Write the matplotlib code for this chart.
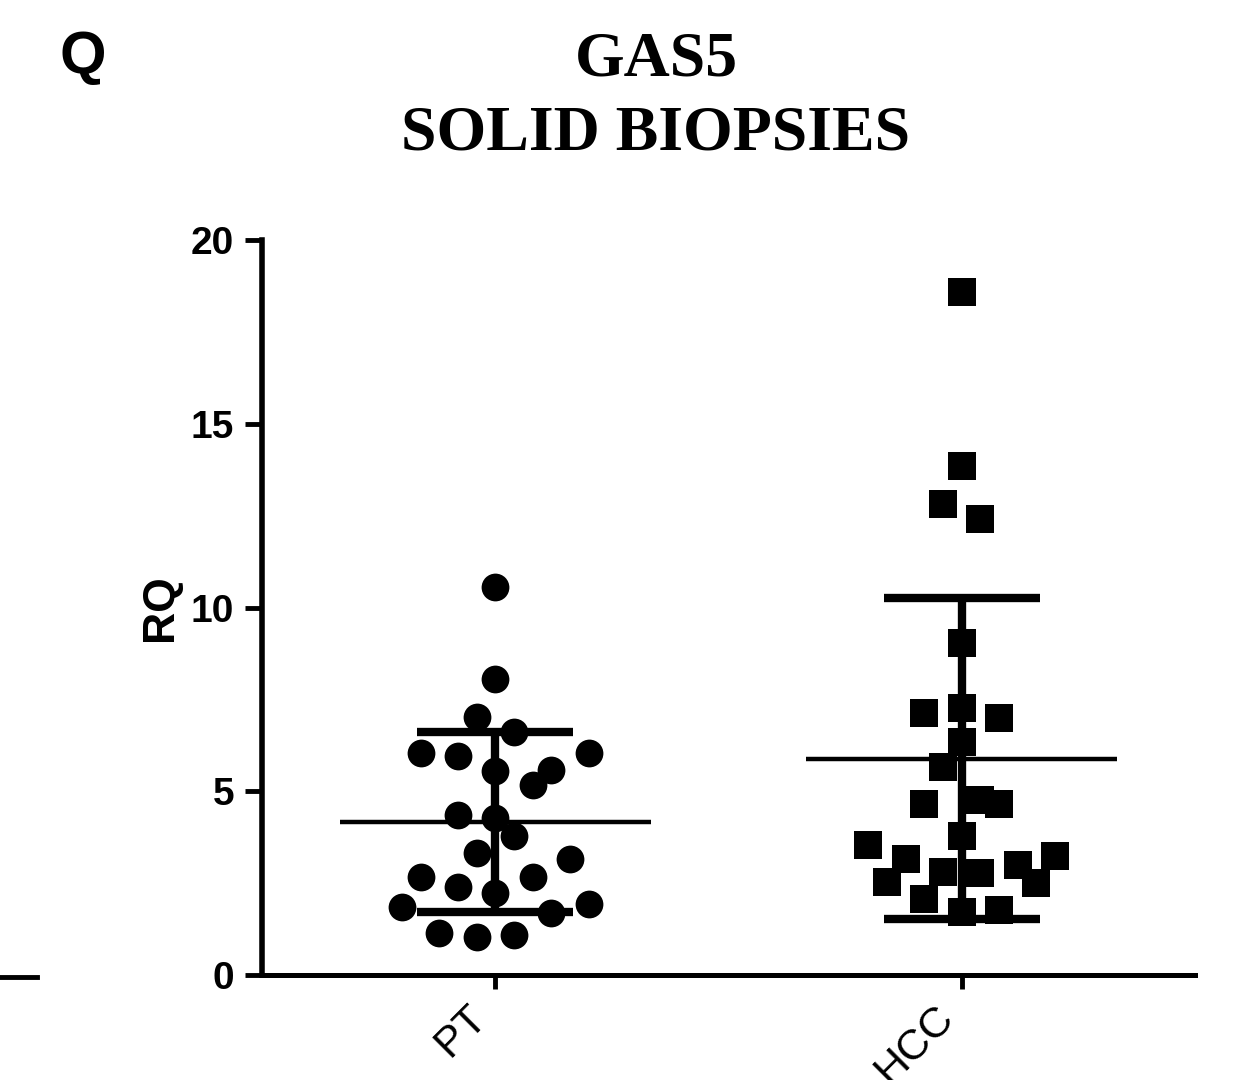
import numpy as np
import matplotlib
matplotlib.use("Agg")
import matplotlib.pyplot as plt
from matplotlib.lines import Line2D

# ---- data ----
categories = ["PT", "HCC"]
pt_values = [10.57, 8.05, 7.03, 6.62, 6.05, 5.96, 6.03, 5.55, 5.58, 5.17,
             4.35, 4.26, 3.78, 3.31, 3.15, 2.68, 2.66, 2.40, 2.22, 1.86,
             1.93, 1.68, 1.15, 1.03, 1.09]
pt_offsets = [0.00, 0.00, -0.04, 0.04, -0.16, -0.08, 0.20, 0.00, 0.12, 0.08,
              -0.08, 0.00, 0.04, -0.04, 0.16, -0.16, 0.08, -0.08, 0.00, -0.20,
              0.20, 0.12, -0.12, -0.04, 0.04]
hcc_values = [18.58, 13.85, 12.82, 12.42, 9.03, 7.14, 7.27, 6.98, 6.35, 5.67,
              4.65, 4.76, 4.65, 3.78, 3.54, 3.15, 2.54, 2.79, 2.77, 3.00,
              3.24, 2.51, 2.07, 1.72, 1.77]
hcc_offsets = [0.00, 0.00, -0.04, 0.04, 0.00, -0.08, 0.00, 0.08, 0.00, -0.04,
               -0.08, 0.04, 0.08, 0.00, -0.20, -0.12, -0.16, -0.04, 0.04, 0.12,
               0.20, 0.16, -0.08, 0.00, 0.08]
y_ticks = [0, 5, 10, 15, 20]

plt.rcParams['font.family'] = ['Liberation Sans', 'DejaVu Sans']

fig = plt.figure(figsize=(12.42, 10.8), dpi=100)
ax = fig.add_axes([262/1242, 1 - 975/1080, (1195-262)/1242, (975-240)/1080])

groups = [(pt_values, pt_offsets, 'o'), (hcc_values, hcc_offsets, 's')]
for i, (vals, offs, mk) in enumerate(groups):
    v = np.array(vals)
    m = v.mean()
    sd = v.std(ddof=1)
    ax.vlines(i, m - sd, m + sd, color='black', lw=6, zorder=2)
    ax.hlines([m - sd, m + sd], i - 0.167, i + 0.167, color='black', lw=6, zorder=2)
    ax.hlines(m, i - 0.333, i + 0.333, color='black', lw=3.2, zorder=2)
    ax.plot(i + np.array(offs), v, linestyle='none', marker=mk, markersize=20,
            markerfacecolor='black', markeredgecolor='black', markeredgewidth=0,
            zorder=3)

ax.set_xlim(-0.5, 1.5)
ax.set_ylim(0, 20)
ax.set_yticks(y_ticks)
ax.set_yticklabels([str(t) for t in y_ticks], fontsize=28, fontweight='bold')
ax.set_xticks(range(len(categories)))
ax.set_xticklabels(categories, fontsize=31, rotation=45, ha='right')
ax.tick_params(axis='y', length=12, width=3.5, pad=8)
ax.tick_params(axis='x', length=10, width=3.5, pad=6)
for s in ['top', 'right']:
    ax.spines[s].set_visible(False)
ax.spines['left'].set_linewidth(4)
ax.spines['bottom'].set_linewidth(3.6)
ax.set_ylabel("RQ", fontsize=32, fontweight='bold', labelpad=7)

fig.text(656/1242, 1 - 75/1080, "GAS5", ha='center', va='baseline',
         fontsize=46, fontweight='bold', family=['Liberation Serif'])
fig.text(656/1242, 1 - 150/1080, "SOLID BIOPSIES", ha='center', va='baseline',
         fontsize=46, fontweight='bold', family=['Liberation Serif'])
fig.text(60/1242, 1 - 73/1080, "Q", ha='left', va='baseline',
         fontsize=43, fontweight='bold')

fig.add_artist(Line2D([0, 37/1242], [1 - 977/1080, 1 - 977/1080],
                      color='black', lw=3.5, transform=fig.transFigure))

fig.savefig("out.png", dpi=100)
